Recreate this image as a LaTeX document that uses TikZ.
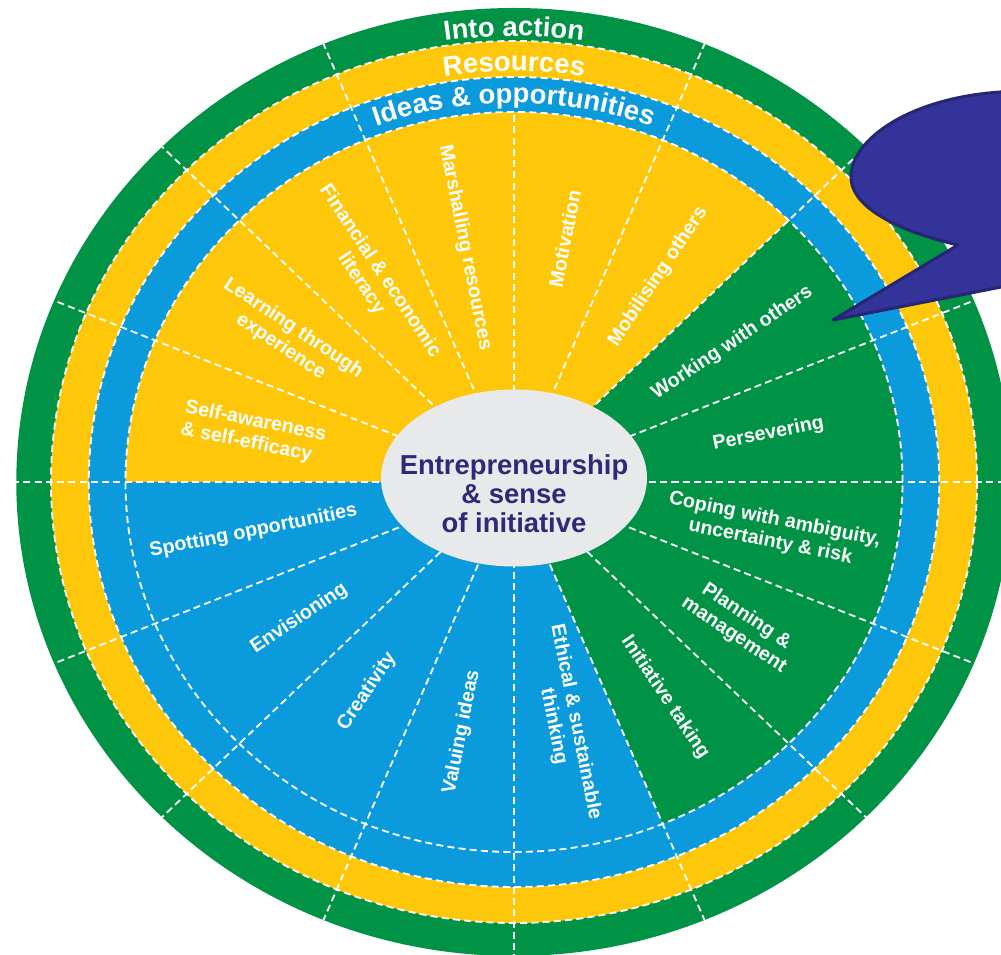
\documentclass[tikz,border=0pt]{standalone}
\usepackage{fontspec}
\setmainfont{Liberation Sans}
\usetikzlibrary{shapes.geometric,decorations.text}

\definecolor{actgreen}{HTML}{009245}
\definecolor{resyellow}{HTML}{FFC70A}
\definecolor{ideablue}{HTML}{0B9BDC}
\definecolor{hubgrey}{HTML}{E8E9EA}
\definecolor{hubink}{HTML}{2E2A78}
\definecolor{bubblefill}{HTML}{333399}
\definecolor{bubbleline}{HTML}{262673}

\begin{document}
\begin{tikzpicture}[x=0.25mm,y=0.25mm,
    cut/.style={white,line width=1.3pt,dash pattern=on 5pt off 3pt},
    area/.style={text=white,font=\fontsize{14}{16}\selectfont\bfseries,inner sep=0pt},
    hub/.style={ellipse,fill=hubgrey,minimum width=66.5mm,minimum height=44.25mm},
    hubtxt/.style={text=hubink,font=\fontsize{19.5}{20.5}\selectfont\bfseries,align=center},
    ring label/.style={decorate,decoration={text along path,text align=center,text color=white,
        text={|\fontsize{19.5}{21}\selectfont\bfseries|#1}}}]
\useasboundingbox (0,0) rectangle (1001,954);

\begin{scope}[shift={(514,472)},xscale=1.05]
  % the three rings
  \fill[actgreen] (0,0) circle (474);
  \fill[resyellow] (0,0) circle (441);
  \fill[ideablue] (0,0) circle (405);
  % inner areas
  \fill[resyellow] (0,0) -- (45:370) arc (45:180:370) -- cycle;
  \fill[ideablue] (0,0) -- (180:370) arc (180:292.5:370) -- cycle;
  \fill[actgreen] (0,0) -- (292.5:370) arc (292.5:405:370) -- cycle;
  % dashed cuts
  \foreach \r in {441,405,370} \draw[cut] (0,0) circle (\r);
  \foreach \a in {0,22.5,45,67.5,112.5,135,157.5,180,202.5,225,247.5,270,292.5,315,337.5}
    \draw[cut] (0,0) -- (\a:474);
  \draw[cut] (0,0) -- (90:370);
  % hub
  \node[hub] (hub) at (0,4) {};
  \node[hubtxt] (core) at (0,-12) {Entrepreneurship\\\& sense\\of initiative};
  % competences
  \foreach \a/\r/\al/\t [count=\n] in {
      11.25/247/center/Persevering,
      33.75/250/center/Working with others,
      56.25/247/center/Mobilising others,
      78.75/248/center/Motivation,
      101.25/239/center/Marshalling resources,
      123.75/246/center/{Financial \& economic\\literacy},
      146.25/260/center/{Learning through\\experience},
      168.75/253/left/{Self-awareness\\\& self-efficacy},
      191.25/253/center/Spotting opportunities,
      213.75/246/center/Envisioning,
      236.25/252/center/Creativity,
      258.75/255/center/Valuing ideas,
      281.25/247/center/{Ethical \& sustainable\\thinking},
      303.75/259/center/Initiative taking,
      326.25/259/center/{Planning \&\\management},
      348.75/251/center/{Coping with ambiguity,\\uncertainty \& risk}}{
    \pgfmathsetmacro\rot{(\a>90 && \a<270) ? \a-180 : \a}
    \node[area,align=\al,rotate=\rot] (area\n) at (\a:\r) {\t};
  }
\end{scope}

% ring titles
\begin{scope}[shift={(514,472)}]
  \path[ring label={Into action}] (125:468 and 446) arc[start angle=125,end angle=55,x radius=468,y radius=446];
  \path[ring label={Resources}] (125:432 and 411) arc[start angle=125,end angle=55,x radius=432,y radius=411];
  \path[ring label={Ideas {\&} opportunities}] (130:398 and 379) arc[start angle=130,end angle=50,x radius=398,y radius=379];
\end{scope}

% callout
\filldraw[fill=bubblefill,draw=bubbleline,line width=2.2pt,line join=round]
  (833,634) -- (958,709) .. controls (890,725) and (850,750) .. (851,778)
  .. controls (852,815) and (910,856) .. (1001,862) -- (1030,863) -- (1030,662) -- (1001,667) -- cycle;
\end{tikzpicture}
\end{document}
